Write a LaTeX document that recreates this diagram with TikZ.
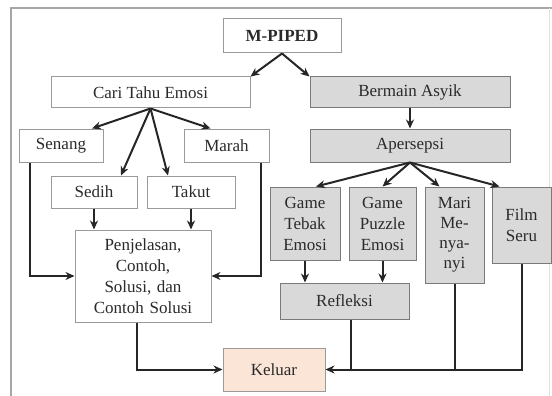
\documentclass[tikz,border=0pt]{standalone}
\usepackage{fontspec}
\setmainfont{Liberation Serif}
\newfontfamily\tnr{Liberation Serif}
\usetikzlibrary{arrows.meta,calc}
\definecolor{boxgray}{HTML}{D9D9D9}
\definecolor{peach}{HTML}{FBE5D6}
\definecolor{edgew}{HTML}{9A9A9A}
\definecolor{edgeg}{HTML}{7A7A7A}
\definecolor{linec}{HTML}{262626}
\definecolor{txt}{HTML}{2A2A2A}
\begin{document}
\begin{tikzpicture}[x=1pt,y=-1pt,
  base/.style={inner sep=0pt, align=center, text=txt, font=\tnr\fontsize{17}{21}\selectfont, line width=1pt},
  wbox/.style={base, draw=edgew, fill=white},
  gbox/.style={base, draw=edgeg, fill=boxgray},
  kbox/.style={base, draw=edgew, fill=peach},
  conn/.style={draw=linec, line width=2pt},
  arr/.style={conn, -{Stealth[length=9pt,width=8pt]}}
]
\useasboundingbox (0,0) rectangle (552,396);
% frame
\draw[draw=black!35, line width=1.8pt] (11,397) -- (11,8) -- (552,8);
\draw[draw=black!12, line width=0.8pt] (549,8) -- (549,396);

% nodes
\node[wbox, minimum width=118pt, minimum height=34pt, font=\tnr\fontsize{17}{21}\selectfont\bfseries] (mp) at (282,36) {M-PIPED};
\node[wbox, minimum width=199pt, minimum height=31pt] (cari) at (150.5,92.5) {Cari Tahu Emosi};
\node[gbox, minimum width=200pt, minimum height=31pt] (bermain) at (410,92.5) {Bermain Asyik};
\node[gbox, minimum width=200pt, minimum height=33pt] (aper) at (410,145.5) {Apersepsi};
\node[wbox, minimum width=84pt, minimum height=33pt] (senang) at (61,145.5) {Senang};
\node[wbox, minimum width=85pt, minimum height=33pt] (marah) at (226.5,145.5) {Marah};
\node[wbox, minimum width=86pt, minimum height=32pt] (sedih) at (94,192) {Sedih};
\node[wbox, minimum width=88pt, minimum height=32pt] (takut) at (191,192) {Takut};
\node[wbox, minimum width=136pt, minimum height=92pt, text width=130pt] (penj) at (143,276) {Penjelasan,\\Contoh,\\Solusi, dan\\Contoh Solusi};
\node[kbox, minimum width=102pt, minimum height=43pt] (keluar) at (274,369.5) {Keluar};
\node[gbox, minimum width=70pt, minimum height=73pt, text width=66pt] (gt) at (305,223.5) {Game\\Tebak\\Emosi};
\node[gbox, minimum width=67pt, minimum height=73pt, text width=63pt] (gp) at (382.5,223.5) {Game\\Puzzle\\Emosi};
\node[gbox, minimum width=59pt, minimum height=96pt, text width=55pt, font=\tnr\fontsize{17}{20}\selectfont] (mari) at (454.5,235) {Mari\\Me-\\nya-\\nyi};
\node[gbox, minimum width=59pt, minimum height=76pt, text width=55pt] (film) at (521.5,225) {Film\\Seru};
\node[gbox, minimum width=129pt, minimum height=36pt] (refl) at (344.5,301) {Refleksi};

% connectors top
\draw[arr] (mp.south) -- (cari.north east);
\draw[arr] (mp.south) -- (bermain.north west);
\draw[arr] (cari.south) -- ($(senang.north)+(31,0)$);
\draw[arr] (cari.south) -- ($(marah.north)+(-16,0)$);
\draw[arr] (cari.south) -- ($(sedih.north)+(27,0)$);
\draw[arr] (cari.south) -- ($(takut.north)+(-23,0)$);
\draw[arr] (bermain.south) -- (aper.north);
\draw[arr] (aper.south) -- ($(gt.north)+(11,0)$);
\draw[arr] (aper.south) -- ($(gp.north)+(0,0)$);
\draw[arr] (aper.south) -- ($(mari.north)+(-15,0)$);
\draw[arr] (aper.south) -- ($(film.north)+(-22,0)$);

% left side
\coordinate (sl) at ($(senang.south west)+(11,0)$);
\coordinate (ml) at ($(marah.south east)+(-9,0)$);
\draw[arr] (sl) |- (penj.west);
\draw[arr] (ml) |- (penj.east);
\draw[arr] (sedih.south) -- (sedih.south |- penj.north);
\draw[arr] (takut.south) -- (takut.south |- penj.north);
\coordinate (ps) at ($(penj.south)+(-6,0)$);
\draw[arr] (ps) |- (keluar.west);

% right side
\draw[arr] (gt.south) -- (gt.south |- refl.north);
\draw[arr] (gp.south) -- (gp.south |- refl.north);
\coordinate (rs) at ($(refl.south)+(6,0)$);
\draw[arr] (film.south) |- (keluar.east);
\draw[conn] (mari.south) -- (mari.south |- keluar.east);
\draw[conn] (rs) -- (rs |- keluar.east);
\end{tikzpicture}
\end{document}
